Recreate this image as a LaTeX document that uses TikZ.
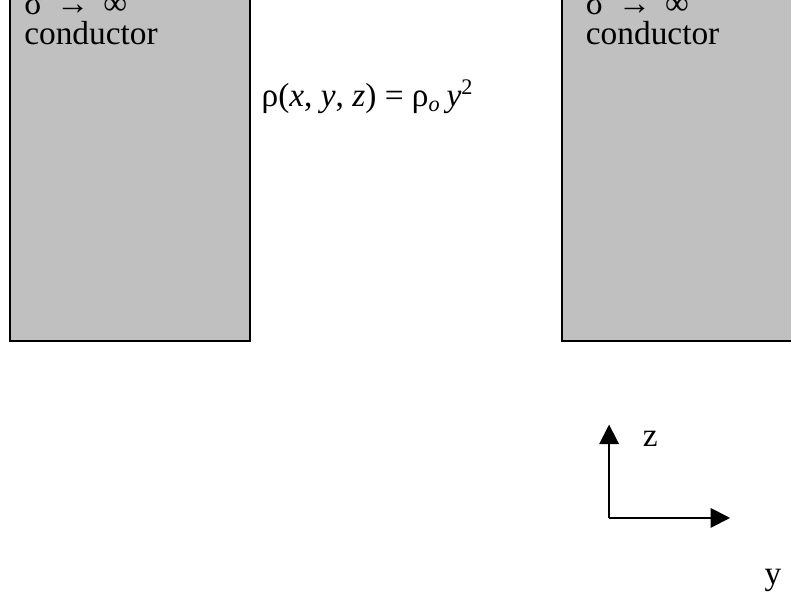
\documentclass[tikz,border=0pt]{standalone}
\usepackage{fontspec}
\setmainfont{Liberation Serif}
\usetikzlibrary{arrows.meta}
\definecolor{condG}{RGB}{192,192,192}

\begin{document}
\begin{tikzpicture}[>={Triangle[length=7pt,width=7pt]},
  edge/.style={draw=black,line width=0.7pt},
  lbl/.style={font=\fontsize{12}{14}\selectfont,inner sep=0pt,anchor=base west}]
\useasboundingbox (0,0) rectangle (10,7.508);
\clip (0,0) rectangle (10,7.508);
% conductors
\fill[condG] (0.126,3.198) rectangle (3.16,8);
\draw[edge] (0.126,8) |- (3.16,3.198) -- (3.16,8);
\fill[condG] (7.104,3.198) rectangle (10.5,8);
\draw[edge] (10.5,3.198) -| (7.104,8);
\node[lbl] (sigL) at (0.30,7.33) {σ \,→\, ∞};
\node[lbl] (condL) at (0.30,6.95) {conductor};
\node[lbl] (sigR) at (7.40,7.33) {σ \,→\, ∞};
\node[lbl] (condR) at (7.40,6.95) {conductor};
% charge density
\node[font=\fontsize{12}{14}\selectfont] (rho) at (4.65,6.28)
  {ρ(\textit{x}, \textit{y}, \textit{z}) = ρ\textsubscript{\textit{o}}\,\textit{y}\textsuperscript{2}};
% axes
\coordinate (o) at (7.70,0.96);
\coordinate (ztip) at (7.70,2.14);
\coordinate (ytip) at (9.23,0.96);
\draw[->,line width=0.7pt] (o) -- (ztip);
\draw[->,line width=0.7pt] (o) -- (ytip);
\node[lbl] (zl) at (8.12,1.86) {z};
\node[lbl] (yl) at (9.66,0.12) {y};
\end{tikzpicture}
\end{document}
